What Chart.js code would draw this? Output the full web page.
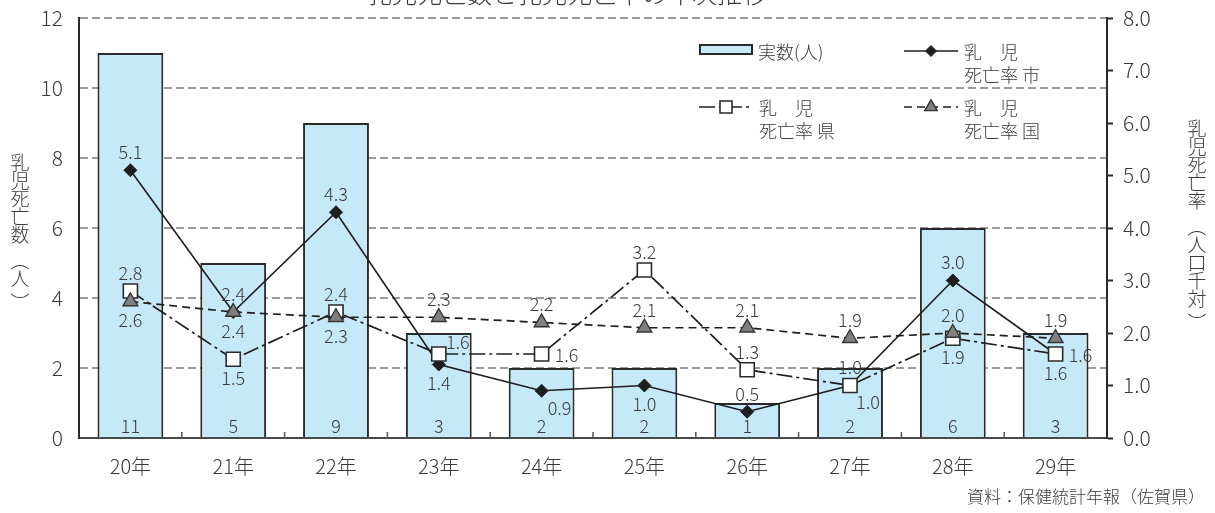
<!DOCTYPE html>
<html>
<head>
<meta charset="utf-8">
<title>乳児死亡数と乳児死亡率の年次推移</title>
<script src="https://cdn.jsdelivr.net/npm/chart.js@4.4.0/dist/chart.umd.min.js"></script>
<style>
  html, body { margin: 0; padding: 0; background: #fff; }
  #wrap { width: 1215px; height: 513px; }
</style>
</head>
<body>
<div id="wrap"><canvas id="canvas" width="1215" height="513"></canvas></div>
<script>
// 年次
var years = ['20年', '21年', '22年', '23年', '24年', '25年', '26年', '27年', '28年', '29年'];
// 乳児死亡数（人）
var deaths = [11, 5, 9, 3, 2, 2, 1, 2, 6, 3];
// 乳児死亡率（出生千対）
var rateCity   = [5.1, 2.4, 4.3, 1.4, 0.9, 1.0, 0.5, 1.0, 3.0, 1.6];
var ratePref   = [2.8, 1.5, 2.4, 1.6, 1.6, 3.2, 1.3, 1.0, 1.9, 1.6];
var rateNation = [2.6, 2.4, 2.3, 2.3, 2.2, 2.1, 2.1, 1.9, 2.0, 1.9];

// 目盛り
var countTicks = [0, 2, 4, 6, 8, 10, 12];
var rateTicks = [0, 1, 2, 3, 4, 5, 6, 7, 8];

// ラベルの置き場所 (t:上 b:下 r:右 tr:右上 br:右下)
var cityPos   = ['t', 't', 't', 'b', 'br', 'b', 't', 't', 't', 'r'];
var prefPos   = ['t', 'b', 't', 'tr', 'r', 't', 't', 'br', 'b', 'b'];
var nationPos = ['b', 'b', 'b', 't', 't', 't', 't', 't', 't', 't'];

var FONT = '"Noto Sans CJK JP", "Noto Sans", sans-serif';
var W = '300 ';
var TXT = '#3a3a3a';
Chart.defaults.font.family = FONT;
Chart.defaults.font.weight = 300;
Chart.defaults.color = TXT;

var offsets = {
  t:  [0, -18],
  b:  [0, 19],
  r:  [25, 1],
  tr: [19, -12],
  br: [18, 17]
};

// 縦軸のラベル分の余白を詰めて、描画領域の上端を揃える
function noVerticalPadding(s) {
  s.paddingTop = 0;
  s.paddingBottom = 0;
}

var extras = {
  id: 'extras',
  afterDatasetsDraw: function(chart) {
    var ctx = chart.ctx;
    var area = chart.chartArea;
    var xs = chart.scales.x;

    // x軸の内向き目盛り
    ctx.save();
    ctx.strokeStyle = '#555';
    ctx.lineWidth = 1.5;
    for (var i = 1; i < years.length; i++) {
      var bx = (xs.getPixelForValue(i - 1) + xs.getPixelForValue(i)) / 2;
      ctx.beginPath();
      ctx.moveTo(bx, area.bottom);
      ctx.lineTo(bx, area.bottom - 6);
      ctx.stroke();
    }
    ctx.restore();

    ctx.save();
    ctx.fillStyle = TXT;
    ctx.font = W + '18px ' + FONT;
    ctx.textAlign = 'center';
    ctx.textBaseline = 'middle';

    // 棒の中の実数
    chart.getDatasetMeta(0).data.forEach(function(bar, i) {
      ctx.fillText(String(deaths[i]), bar.x, area.bottom - 12);
    });

    // 各率の値ラベル
    [[1, rateCity, cityPos], [2, ratePref, prefPos], [3, rateNation, nationPos]].forEach(function(s) {
      var meta = chart.getDatasetMeta(s[0]);
      meta.data.forEach(function(pt, i) {
        var o = offsets[s[2][i]];
        ctx.fillText(s[1][i].toFixed(1), pt.x + o[0], pt.y + o[1]);
      });
    });
    ctx.restore();
  },
  afterDraw: function(chart) {
    var ctx = chart.ctx;
    var ds = chart.data.datasets;
    ctx.save();
    ctx.fillStyle = TXT;

    // 凡例
    ctx.font = W + '18px ' + FONT;
    ctx.textAlign = 'left';
    ctx.textBaseline = 'middle';

    ctx.fillStyle = ds[0].backgroundColor;
    ctx.fillRect(700, 45, 52, 9);
    ctx.strokeStyle = ds[0].borderColor;
    ctx.lineWidth = 2;
    ctx.strokeRect(700, 45, 52, 9);
    ctx.fillStyle = TXT;
    ctx.fillText(ds[0].label, 758, 52);

    var items = [[1, 904, 51], [2, 699, 107], [3, 904, 107]];
    items.forEach(function(it) {
      var d = ds[it[0]];
      var x1 = it[1], x2 = it[1] + 54, y = it[2];
      ctx.save();
      ctx.strokeStyle = d.borderColor;
      ctx.lineWidth = d.borderWidth;
      ctx.setLineDash(d.borderDash || []);
      ctx.beginPath();
      ctx.moveTo(x1, y);
      ctx.lineTo(x2, y);
      ctx.stroke();
      ctx.setLineDash([]);
      ctx.fillStyle = d.pointBackgroundColor;
      ctx.strokeStyle = d.pointBorderColor;
      ctx.lineWidth = d.pointBorderWidth;
      Chart.helpers.drawPoint(ctx, {
        pointStyle: d.pointStyle,
        radius: d.pointRadius * 0.85,
        rotation: 0,
        borderWidth: d.pointBorderWidth
      }, (x1 + x2) / 2, y);
      ctx.restore();
      ctx.fillText(d.label[0], x2 + 6, y + 1);
      ctx.fillText(d.label[1], x2 + 6, y + 24);
    });

    // 縦書きの軸タイトル
    ctx.font = W + '19px ' + FONT;
    ctx.textAlign = 'center';
    var drawVertical = function(chars, x, y) {
      chars.forEach(function(c) {
        if (c === '︵') y += 8;
        if (c === '︶') y += 6;
        ctx.fillText(c, x, y);
        y += 18;
      });
    };
    drawVertical(['乳', '児', '死', '亡', '数', '︵', '人', '︶'], 20, 163);
    drawVertical(['乳', '児', '死', '亡', '率', '︵', '人', '口', '千', '対', '︶'], 1197, 129);

    // 表題（上端で切れている）
    ctx.font = W + '25px ' + FONT;
    ctx.textBaseline = 'ideographic';
    ctx.fillText('乳児死亡数と乳児死亡率の年次推移', 567, 6);

    // 出典
    ctx.font = W + '17px ' + FONT;
    ctx.textAlign = 'right';
    ctx.textBaseline = 'middle';
    ctx.fillText('資料：保健統計年報（佐賀県）', 1205, 497);
    ctx.restore();
  }
};

new Chart(document.getElementById('canvas'), {
  data: {
    labels: years,
    datasets: [
      {
        type: 'bar',
        label: '実数(人)',
        data: deaths,
        yAxisID: 'y',
        backgroundColor: '#c6e9f8',
        borderColor: '#2a2a2a',
        borderWidth: 2,
        barPercentage: 0.64,
        categoryPercentage: 1,
        order: 4
      },
      {
        type: 'line',
        label: ['乳　児', '死亡率 市'],
        data: rateCity,
        yAxisID: 'y1',
        borderColor: '#1e1e1e',
        borderWidth: 1.6,
        pointStyle: 'rectRot',
        pointRadius: 6.5,
        pointBackgroundColor: '#1e1e1e',
        pointBorderColor: '#1e1e1e',
        pointBorderWidth: 1,
        order: 3
      },
      {
        type: 'line',
        label: ['乳　児', '死亡率 県'],
        data: ratePref,
        yAxisID: 'y1',
        borderColor: '#1e1e1e',
        borderWidth: 1.7,
        borderDash: [16, 4, 3, 4],
        pointStyle: 'rect',
        pointRadius: 10,
        pointBackgroundColor: '#ffffff',
        pointBorderColor: '#2a2a2a',
        pointBorderWidth: 1.6,
        order: 2
      },
      {
        type: 'line',
        label: ['乳　児', '死亡率 国'],
        data: rateNation,
        yAxisID: 'y1',
        borderColor: '#1e1e1e',
        borderWidth: 1.7,
        borderDash: [8, 5],
        pointStyle: 'triangle',
        pointRadius: 8.5,
        pointBackgroundColor: '#808080',
        pointBorderColor: '#333333',
        pointBorderWidth: 1.4,
        order: 1
      }
    ]
  },
  options: {
    responsive: false,
    animation: false,
    events: [],
    layout: { padding: { top: 18, left: 0, right: 0, bottom: 0 } },
    plugins: {
      legend: { display: false },
      tooltip: { enabled: false }
    },
    scales: {
      x: {
        grid: { display: false, drawTicks: false },
        border: { color: '#4a4a4a', width: 2 },
        ticks: { padding: 16, color: TXT, font: { size: 20 } },
        afterFit: function(s) { s.height = 75; }
      },
      y: {
        position: 'left',
        min: 0,
        max: 12,
        afterBuildTicks: function(s) {
          s.ticks = countTicks.map(function(v) { return { value: v }; });
        },
        grid: {
          drawTicks: false,
          lineWidth: 2,
          color: function(c) { return c.tick && c.tick.value === 0 ? 'rgba(0,0,0,0)' : '#9c9c9c'; }
        },
        border: { color: '#2a2a2a', width: 2, dash: [8, 4] },
        ticks: { padding: 16, color: TXT, font: { size: 21 } },
        afterFit: function(s) { s.width = 79; noVerticalPadding(s); }
      },
      y1: {
        position: 'right',
        min: 0,
        max: 8,
        afterBuildTicks: function(s) {
          s.ticks = rateTicks.map(function(v) { return { value: v }; });
        },
        grid: {
          drawOnChartArea: false,
          drawTicks: true,
          tickLength: 6,
          tickColor: '#2a2a2a',
          tickWidth: 2
        },
        border: { color: '#2a2a2a', width: 2 },
        ticks: {
          padding: 10,
          color: TXT,
          font: { size: 21 },
          callback: function(v) { return Number(v).toFixed(1); }
        },
        afterFit: function(s) { s.width = 108; noVerticalPadding(s); }
      }
    }
  },
  plugins: [extras]
});
</script>
</body>
</html>
